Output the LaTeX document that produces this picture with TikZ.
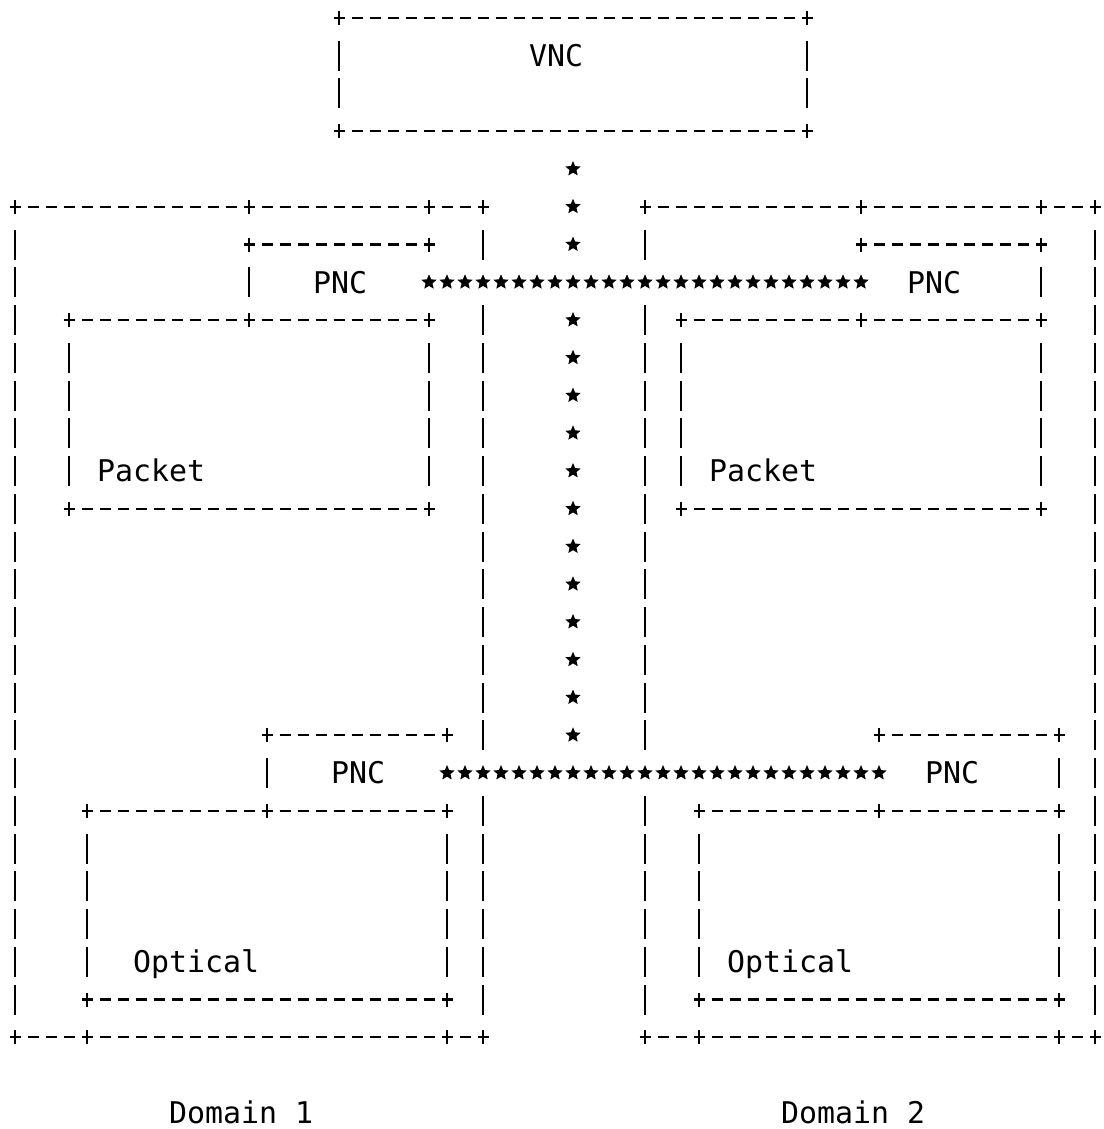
\documentclass[tikz,border=0pt]{standalone}
\usepackage{fontspec}
\setmonofont{DejaVu Sans Mono}
\usepackage{tikz}
\usetikzlibrary{calc,shapes.geometric,decorations.markings}

\begin{document}
\begin{tikzpicture}[x=9pt, y=-18.875pt, line width=1.2pt,
		font=\ttfamily\fontsize{14.95pt}{18pt}\selectfont,
		hline/.style={dash pattern=on 5.5pt off 3.5pt},
		vline/.style={dash pattern=on 15pt off 3.875pt},
		area/.style={inner sep=0pt, outer sep=0pt},
		txt/.style={anchor=west, inner sep=0pt, text height=10.9pt, text depth=0pt},
		cellmask/.style={fill=white, inner sep=0pt, minimum width=9pt, minimum height=18.875pt},
		starmark/.style={star, star points=5, star point ratio=2.2, minimum size=8pt, inner sep=0pt, fill=black},
		hbus/.style={decoration={markings,
			mark=between positions 0 and 1 step 9pt with {\node[cellmask] {}; \node[starmark] {};},
			mark=at position 1 with {\node[cellmask] {}; \node[starmark] {};}}, decorate},
		vbus/.style={decoration={markings,
			mark=between positions 18.875pt and 1 step 18.875pt with {\node[cellmask] {}; \node[starmark] {};},
			mark=at position 1 with {\node[starmark] {};}}, decorate}]
			\useasboundingbox (-0.8333,-0.4768) rectangle (60.444,29.43);
			\foreach \n/\xa/\ya/\xb/\yb in {vnc/18/0/44/3, dom1/0/5/26/27, dom2/35/5/60/27,
				pnc1/13/6/23/8, pkt1/3/8/23/13, pnc2/47/6/57/8, pkt2/37/8/57/13,
				pnc3/14/19/24/21, opt1/4/21/24/26, pnc4/48/19/58/21, opt2/38/21/58/26} {
				\node[area, minimum width={(\xb-\xa)*9pt}, minimum height={(\yb-\ya)*18.875pt}] (\n) at ({(\xa+\xb)/2},{(\ya+\yb)/2}) {};
				\draw[hline] ([xshift=-2.75pt]\n.north west) -- ([xshift=2.75pt]\n.north east);
				\draw[hline] ([xshift=-2.75pt]\n.south west) -- ([xshift=2.75pt]\n.south east);
				\draw[vline] ([yshift=-11.375pt]\n.north west) -- ([yshift=11.375pt]\n.south west);
				\draw[vline] ([yshift=-11.375pt]\n.north east) -- ([yshift=11.375pt]\n.south east);
				\foreach \k in {north west, north east, south west, south east}
					\draw (\n.\k) +(0,3.5pt) -- +(0,-3.5pt);
			}
			\foreach \b/\d in {pnc1/dom1, pnc2/dom2}
				\foreach \k in {west, east}
					\draw (\b.north \k |- \d.north) +(0,3.5pt) -- +(0,-3.5pt);
			\foreach \b/\d in {opt1/dom1, opt2/dom2}
				\foreach \k in {west, east}
					\draw (\b.south \k |- \d.south) +(0,3.5pt) -- +(0,-3.5pt);
			\path[vbus] (vnc.south) -- (vnc.south |- pnc3.east);
			\path[hbus] (pnc1.east) -- (pnc2.west);
			\path[hbus] (pnc3.east) -- (pnc4.west);
			\node[txt] (vnc-t) at (28.5,1) {VNC};
			\node[txt] (pnc1-t) at (16.5,7) {PNC};
			\node[txt] (pnc2-t) at (49.5,7) {PNC};
			\node[txt] (pkt1-t) at (4.5,12) {Packet};
			\node[txt] (pkt2-t) at (38.5,12) {Packet};
			\node[txt] (pnc3-t) at (17.5,20) {PNC};
			\node[txt] (pnc4-t) at (50.5,20) {PNC};
			\node[txt] (opt1-t) at (6.5,25) {Optical};
			\node[txt] (opt2-t) at (39.5,25) {Optical};
			\node[txt] (dom1-t) at (8.5,29) {Domain 1};
			\node[txt] (dom2-t) at (42.5,29) {Domain 2};
		\end{tikzpicture}
\end{document}
